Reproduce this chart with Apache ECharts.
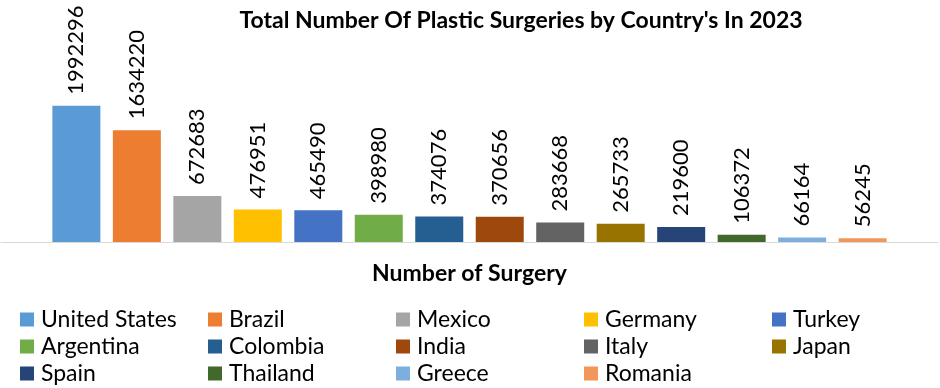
<!DOCTYPE html>
<html><head><meta charset="utf-8">
<script src="https://cdn.jsdelivr.net/npm/echarts@6/dist/echarts.min.js"></script>
<style>html,body{margin:0;padding:0;background:#fff}#c{width:940px;height:388px}</style>
</head><body><div id="c"></div>
<script>
const categories = ["Number of Surgery"];
const countries = ["United States","Brazil","Mexico","Germany","Turkey","Argentina","Colombia","India","Italy","Japan","Spain","Thailand","Greece","Romania"];
const values = [1992296,1634220,672683,476951,465490,398980,374076,370656,283668,265733,219600,106372,66164,56245];
const colors = ["#5B9BD5","#ED7D31","#A5A5A5","#FFC000","#4472C4","#70AD47","#255E91","#9E480E","#636363","#997300","#264478","#43682B","#7CAFDD","#F1975A"];
const FONT = "Lato";
const chart = echarts.init(document.getElementById('c'), null, {renderer:'canvas'});
const series = countries.map((name,i)=>({
  name, type:'bar', data:[values[i]], barWidth:48, barGap:'26%',
  itemStyle:{color:colors[i]},
  label:{show:true, position:'top', rotate:90, align:'left', verticalAlign:'middle', distance:11,
    color:'#000', fontFamily:FONT, fontSize:22}
}));
chart.setOption({
  animation:false,
  textStyle:{fontFamily:FONT},
  title:{text:"Total Number Of Plastic Surgeries by Country's In 2023", left:516, textAlign:'center', top:4,
    textStyle:{fontFamily:FONT, fontWeight:'bold', fontSize:23, color:'#000'}},
  grid:{left:1, right:2, top:71, bottom:146},
  xAxis:{type:'category', data:categories, axisTick:{show:false},
    axisLine:{lineStyle:{color:'#D9D9D9', width:1}},
    axisLabel:{margin:20, color:'#000', fontFamily:FONT, fontWeight:'bold', fontSize:23}},
  yAxis:{type:'value', min:0, max:2500000, show:false, splitLine:{show:false}},
  legend:{data:countries, left:20, top:306, width:940, padding:0, itemGap:0, itemWidth:14, itemHeight:14,
    icon:'rect',
    textStyle:{fontFamily:FONT, fontSize:23, color:'#000', width:167, lineHeight:27, padding:[0,0,0,2]}},
  series
});
</script></body></html>
